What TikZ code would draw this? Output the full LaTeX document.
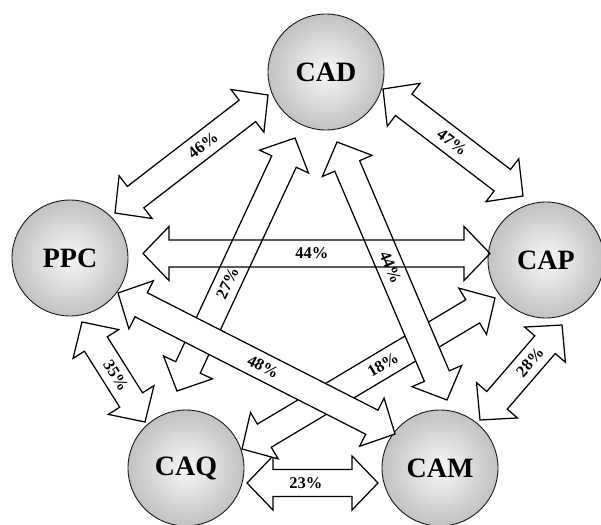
\documentclass[tikz,border=0pt]{standalone}
\usepackage{fontspec}
\setmainfont{Liberation Serif}
\usetikzlibrary{calc}
\tikzset{
  ball/.style={circle, draw=black!90, line width=0.9pt, shading=radial,
    inner color=black!3, outer color=black!24, minimum size=116pt, inner sep=0pt,
    font=\fontsize{28}{28}\selectfont\bfseries},
  filledarrow/.style={draw=black, line width=1.25pt, line join=miter, fill=white},
  openarrow/.style={draw=black, line width=1.25pt, line join=miter},
  pct/.style={font=\fontsize{16.5}{16.5}\selectfont\bfseries, inner sep=0pt, sloped}
}
\newcommand\blkarrow[3]{%
  \coordinate (ba-a) at ($(#2)!26pt!(#3)$);
  \coordinate (ba-b) at ($(#3)!26pt!(#2)$);
  \path[#1] (#2) -- ($(ba-a)!27pt!90:(#3)$) -- ($(ba-a)!13.5pt!90:(#3)$)
    -- ($(ba-b)!13.5pt!90:(#3)$) -- ($(ba-b)!27pt!90:(#3)$) -- (#3)
    -- ($(ba-b)!27pt!-90:(#3)$) -- ($(ba-b)!13.5pt!-90:(#3)$)
    -- ($(ba-a)!13.5pt!-90:(#3)$) -- ($(ba-a)!27pt!-90:(#3)$) -- cycle;
}
\begin{document}
\begin{tikzpicture}[x=1pt, y=-1pt]
\useasboundingbox (0,0) rectangle (601,524);
\clip (0,0) rectangle (601,524);
% circles
\node[ball] (CAD) at (326,72) {CAD};
\node[ball] (PPC) at (70,258) {PPC};
\node[ball] (CAP) at (546,260) {CAP};
\node[ball] (CAQ) at (186,468) {CAQ};
\node[ball] (CAM) at (440,468) {CAM};
% arrow ends
\coordinate (a46) at (115,213); \coordinate (b46) at (268,95);
\coordinate (a47) at (383,89);  \coordinate (b47) at (523,196);
\coordinate (a44h) at (143,253.5); \coordinate (b44h) at (490,253.5);
\coordinate (a27) at (177,391); \coordinate (b27) at (295,138);
\coordinate (a44d) at (337,142); \coordinate (b44d) at (447,400);
\coordinate (a48) at (118,293); \coordinate (b48) at (395,434);
\coordinate (a18) at (242,449); \coordinate (b18) at (495,298);
\coordinate (a35) at (82,322);  \coordinate (b35) at (145,422);
\coordinate (a28) at (480,420); \coordinate (b28) at (562,325);
\coordinate (a23) at (247,483); \coordinate (b23) at (378,483);
% arrows
\blkarrow{filledarrow}{a35}{b35}
\blkarrow{filledarrow}{a46}{b46}
\blkarrow{filledarrow}{a47}{b47}
\blkarrow{filledarrow}{a28}{b28}
\blkarrow{filledarrow}{a23}{b23}
\blkarrow{filledarrow}{a18}{b18}
\blkarrow{filledarrow}{a44d}{b44d}
\blkarrow{filledarrow}{a27}{b27}
\blkarrow{filledarrow}{a48}{b48}
\blkarrow{openarrow}{a44h}{b44h}
% labels
\path (a46) -- (b46) node[pct, pos=0.575] {46\%};
\path (a47) -- (b47) node[pct, pos=0.494] {47\%};
\path (a44h) -- (b44h) node[pct, pos=0.487] {44\%};
\path (a27) -- (b27) node[pct, pos=0.427] {27\%};
\path (a44d) -- (b44d) node[pct, pos=0.486] {44\%};
\path (a48) -- (b48) node[pct, pos=0.524] {48\%};
\path (a18) -- (b18) node[pct, pos=0.557] {18\%};
\path (a35) -- (b35) node[pct, pos=0.54] {35\%};
\path (a28) -- (b28) node[pct, pos=0.61] {28\%};
\path (a23) -- (b23) node[pct, pos=0.45] {23\%};
\end{tikzpicture}
\end{document}
